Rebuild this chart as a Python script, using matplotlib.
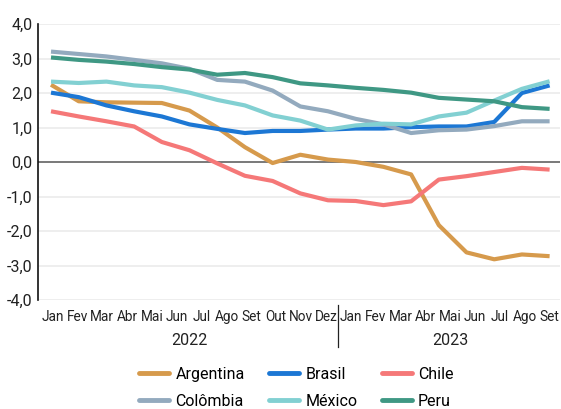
import numpy as np
import matplotlib
matplotlib.use("Agg")
import matplotlib.pyplot as plt

plt.rcParams['font.family'] = ['Roboto', 'DejaVu Sans']

months = ["Jan", "Fev", "Mar", "Abr", "Mai", "Jun", "Jul", "Ago", "Set", "Out", "Nov", "Dez",
          "Jan", "Fev", "Mar", "Abr", "Mai", "Jun", "Jul", "Ago", "Set"]
years = ["2022", "2023"]

argentina = [2.24, 1.76, 1.73, 1.72, 1.71, 1.49, 1.00, 0.43, -0.03, 0.21, 0.07, 0.00,
             -0.14, -0.36, -1.83, -2.62, -2.82, -2.68, -2.73]
brasil = [2.01, 1.88, 1.64, 1.47, 1.32, 1.09, 0.96, 0.84, 0.90, 0.90, 0.94, 0.97,
          0.97, 1.01, 1.03, 1.03, 1.16, 2.00, 2.22]
chile = [1.47, 1.32, 1.18, 1.03, 0.58, 0.34, -0.04, -0.40, -0.55, -0.91, -1.11, -1.13,
         -1.25, -1.14, -0.51, -0.41, -0.29, -0.17, -0.22]
colombia = [3.20, 3.13, 3.06, 2.96, 2.86, 2.70, 2.38, 2.33, 2.07, 1.61, 1.47, 1.25,
            1.09, 0.84, 0.92, 0.94, 1.04, 1.18, 1.18]
mexico = [2.33, 2.29, 2.33, 2.22, 2.17, 2.01, 1.80, 1.64, 1.35, 1.20, 0.94, 1.06,
          1.11, 1.09, 1.32, 1.43, 1.78, 2.12, 2.34]
peru = [3.03, 2.96, 2.91, 2.84, 2.75, 2.68, 2.53, 2.58, 2.46, 2.28, 2.22, 2.15,
        2.09, 2.01, 1.86, 1.81, 1.76, 1.59, 1.54]

series = [
    ("Argentina", argentina, "#D69A4C"),
    ("Brasil", brasil, "#1C77D4"),
    ("Chile", chile, "#F57878"),
    ("Colômbia", colombia, "#93AABE"),
    ("México", mexico, "#82D0D2"),
    ("Peru", peru, "#3F9884"),
]

fig = plt.figure(figsize=(5.61, 4.09), dpi=100)
ax = fig.add_axes([38/561, 109/409, 522/561, 276/409])

n = len(argentina)
x = np.arange(n)
lines = {}
for name, vals, col in series:
    ln, = ax.plot(x, vals, color=col, lw=3, label=name, solid_capstyle='butt', zorder=3)
    lines[name] = ln

ax.set_xlim(-0.47, n - 1 + 0.375)
ax.set_ylim(-4, 4)
yt = np.arange(-4, 5, 1)
ax.set_yticks(yt)
ax.set_yticklabels([f"{v:.1f}".replace(".", ",") for v in yt], fontsize=11.5, color="#222222")
for v in yt:
    if v != 0:
        ax.axhline(v, color="#EBEBEB", lw=1.2, zorder=1)
ax.axhline(0, color="#555555", lw=1.1, zorder=2)

pos = np.linspace(0.06, n - 1, len(months))
ax.set_xticks(pos)
ax.set_xticklabels(months, fontsize=9.8, color="#222222")
ax.tick_params(axis='both', length=0)
ax.tick_params(axis='y', pad=4)
ax.tick_params(axis='x', pad=7)

for s in ["top", "right", "bottom"]:
    ax.spines[s].set_visible(False)
ax.spines["left"].set_color("#111111")
ax.spines["left"].set_linewidth(1.2)

# year separator and labels
sep = (pos[11] + pos[12]) / 2
ax.plot([sep, sep], [-4.15, -5.35], color="#222222", lw=0.9, clip_on=False)
ax.text((pos[0] + pos[11]) / 2, -5.18, years[0], ha="center", va="center", fontsize=11.5,
        color="#222222")
ax.text((pos[12] + pos[20]) / 2, -5.18, years[1], ha="center", va="center", fontsize=11.5,
        color="#222222")

order = ["Argentina", "Colômbia", "Brasil", "México", "Chile", "Peru"]
leg = fig.legend([lines[k] for k in order], order, ncol=3, loc="center",
                 bbox_to_anchor=(0.5285, 0.052), frameon=False,
                 fontsize=11.5, handlelength=1.85, handletextpad=0.4, columnspacing=1.55,
                 labelspacing=0.75)
for h in leg.get_lines():
    h.set_linewidth(3.5)
    h.set_solid_capstyle('round')

fig.savefig("out.png", dpi=100)
